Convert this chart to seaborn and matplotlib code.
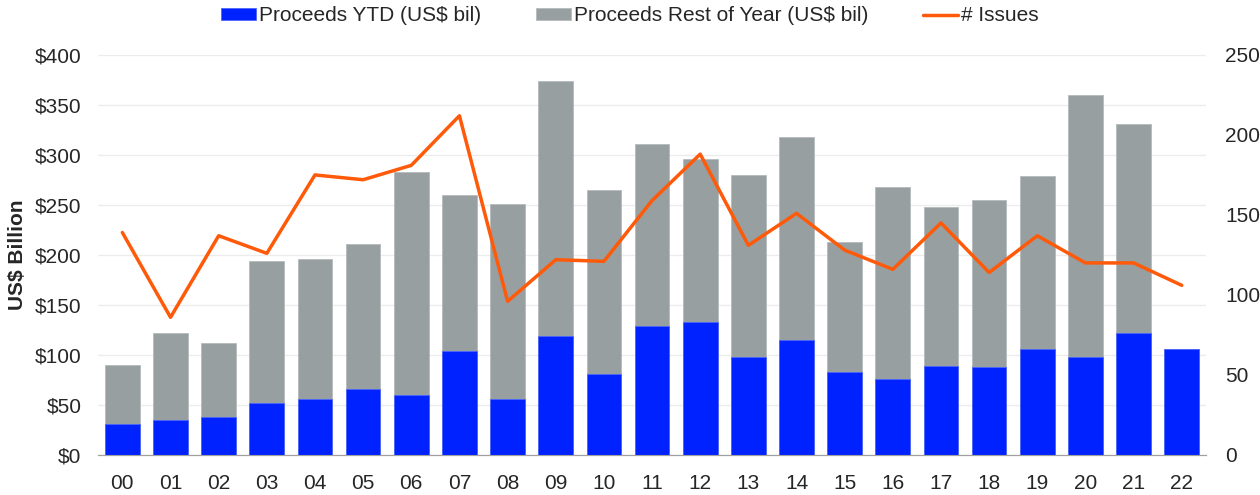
import seaborn as sns
import matplotlib.pyplot as plt
import pandas as pd
from matplotlib.ticker import FuncFormatter, MultipleLocator

# Proceeds by year: YTD part and full-year total (US$ bil), plus issue count
years = ["00", "01", "02", "03", "04", "05", "06", "07", "08", "09", "10", "11",
         "12", "13", "14", "15", "16", "17", "18", "19", "20", "21", "22"]
proceeds_ytd = [31, 35, 38, 52, 56, 66, 60, 104, 56, 119, 81, 129,
                133, 98, 115, 83, 76, 89, 88, 106, 98, 122, 106]
proceeds_total = [90, 122, 112, 194, 196, 211, 283, 260, 251, 374, 265, 311,
                  296, 280, 318, 213, 268, 248, 255, 279, 360, 331, 106]
num_issues = [139, 86, 137, 126, 175, 172, 181, 212, 96, 122, 121, 159,
              188, 131, 151, 128, 116, 145, 114, 137, 120, 120, 106]

df = pd.DataFrame({"year": years, "ytd": proceeds_ytd,
                   "total": proceeds_total, "issues": num_issues})

sns.set_style("white")
plt.rcParams['font.family'] = ['Liberation Sans', 'DejaVu Sans']

blue = "#0022FF"
grey = "#989FA0"
orange = "#FF5A0A"

fig, ax = plt.subplots(figsize=(12.6, 4.95), dpi=100)
fig.subplots_adjust(left=0.078, right=0.957, bottom=0.081, top=0.889)

# gray stack on top = total, blue drawn over it = YTD
sns.barplot(data=df, x="year", y="total", color=grey, width=0.72,
            saturation=1, ax=ax, label="Proceeds Rest of Year (US$ bil)",
            edgecolor="#b5bbbc", linewidth=0.6, zorder=2)
sns.barplot(data=df, x="year", y="ytd", color=blue, width=0.72,
            saturation=1, ax=ax, label="Proceeds YTD (US$ bil)",
            edgecolor="#4d66ff", linewidth=0.6, zorder=3)
h1, l1 = ax.get_legend_handles_labels()
ax.get_legend().remove()

ax.set_ylim(0, 400)
ax.yaxis.set_major_locator(MultipleLocator(50))
ax.yaxis.set_major_formatter(FuncFormatter(lambda v, p: f"${v:.0f}"))
ax.grid(axis="y", color="#ececec", linewidth=1, zorder=0)
ax.set_axisbelow(True)
ax.set_xlim(-0.5, len(years) - 0.5)
ax.set_xlabel("")
ax.set_ylabel("US$ Billion", fontsize=15, fontweight="bold", labelpad=6)
ax.tick_params(axis="both", labelsize=15, length=0)
ax.tick_params(axis="x", pad=14)
ax.tick_params(axis="y", pad=12)

# tick marks between categories
ax.set_xticks([i + 0.5 for i in range(-1, len(years))], minor=True)
ax.tick_params(axis="x", which="minor", length=7, color="#a0a0a0", width=1)

ax2 = ax.twinx()
sns.lineplot(data=df, x="year", y="issues", color=orange, linewidth=2.5,
             ax=ax2, label="# Issues", sort=False)
ax2.set_ylim(0, 250)
ax2.yaxis.set_major_locator(MultipleLocator(50))
ax2.set_ylabel("")
ax2.tick_params(axis="y", labelsize=15, length=0, pad=14)
ax2.grid(False)
h2, l2 = ax2.get_legend_handles_labels()
ax2.get_legend().remove()

for a in (ax, ax2):
    for side in ("top", "left", "right"):
        a.spines[side].set_visible(False)
    a.spines["bottom"].set_color("#a0a0a0")

handles = [h1[1], h1[0], h2[0]]
labels = [l1[1], l1[0], l2[0]]
fig.legend(handles, labels, loc="upper center", bbox_to_anchor=(0.5, 1.025),
           ncol=3, frameon=False, fontsize=15, handlelength=1.7,
           handleheight=0.5, handletextpad=0.15, columnspacing=2.6)

plt.savefig("out.png", dpi=100)
